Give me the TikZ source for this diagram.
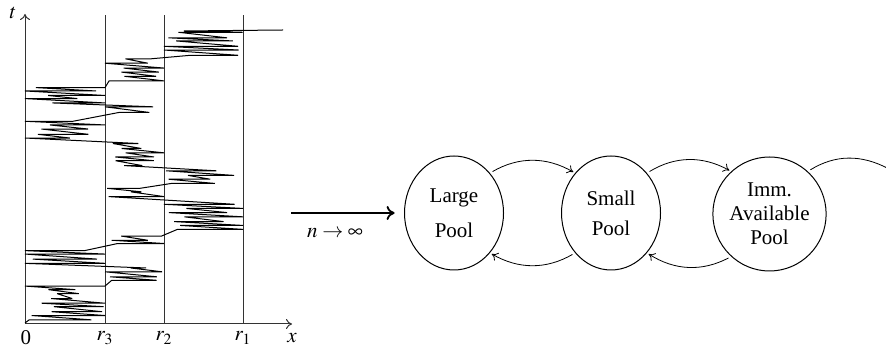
\documentclass[tikz,border=0pt]{standalone}
\usepackage{mathptmx}
\usepackage{fontspec}
\setmainfont{Liberation Serif}
\usetikzlibrary{shapes.geometric,arrows.meta}
\begin{document}
\begin{tikzpicture}[x=0.5pt,y=0.5pt,
  pool/.style={draw,ellipse,line width=0.5pt,minimum width=49.5pt,minimum height=57pt,inner sep=0pt,align=center,font=\fontsize{10.5}{12}\selectfont},
  flow/.style={-{To[length=3pt,width=4.5pt]},line width=0.4pt,shorten <=1.5pt,shorten >=1pt},
  wall/.style={line width=0.5pt,black!80},
  traj/.style={line width=0.5pt,line join=bevel},
  lab/.style={font=\fontsize{10.5}{12}\selectfont,inner sep=0pt}]
\useasboundingbox (0,0) rectangle (886,347);
\pgfmathsetseed{31}
% axes
\coordinate (O) at (25,23);
\coordinate (T) at (25,333);
\coordinate (X) at (292,23);
\draw[wall,-{To[length=3pt,width=5pt]}] (O) -- (T);
\draw[wall,-{To[length=3pt,width=5pt]}] (O) -- (X);
\node[lab] (tl) at (13,334) {$t$};
\node[lab] (xl) at (292,9) {$x$};
\node[lab] (zl) at (26,9) {0};
% walls
\coordinate (w3b) at (105,23); \coordinate (w3t) at (105,332);
\coordinate (w2b) at (164,23); \coordinate (w2t) at (164,332);
\coordinate (w1b) at (243,23); \coordinate (w1t) at (243,332);
\draw[wall] (w3b) -- (w3t);
\draw[wall] (w2b) -- (w2t);
\draw[wall] (w1b) -- (w1t);
\node[lab] (r3) at (105,9) {$r_3$};
\node[lab] (r2) at (164,9) {$r_2$};
\node[lab] (r1) at (243,9) {$r_1$};
% trajectory: horizontal runs joined by shallow slanted returns
\draw[traj] (25,24)
  \foreach \i [evaluate=\i as \yy using {22+\i*4.3+1.5*rnd}] in {1,...,9}{ -- ({25+80*max(0,0.6*rnd-0.15)},{\yy}) -- ({105-80*max(0,0.6*rnd-0.15)},{\yy}) }
  \foreach \i [evaluate=\i as \yy using {61+\i*4.4+1.5*rnd}] in {1,...,4}{ -- ({105+59*max(0,0.6*rnd-0.15)},{\yy}) -- ({164-59*max(0,0.6*rnd-0.15)},{\yy}) }
  \foreach \i [evaluate=\i as \yy using {79+\i*4.2+1.5*rnd}] in {1,...,4}{ -- ({25+80*max(0,0.6*rnd-0.15)},{\yy}) -- ({105-80*max(0,0.6*rnd-0.15)},{\yy}) }
  \foreach \i [evaluate=\i as \yy using {98+\i*4.3+1.5*rnd}] in {1,...,3}{ -- ({105+59*max(0,0.6*rnd-0.15)},{\yy}) -- ({164-59*max(0,0.6*rnd-0.15)},{\yy}) }
  \foreach \i [evaluate=\i as \yy using {112+\i*4.3+1.5*rnd}] in {1,...,7}{ -- ({164+79*max(0,0.6*rnd-0.15)},{\yy}) -- ({243-79*max(0,0.6*rnd-0.15)},{\yy}) }
  \foreach \i [evaluate=\i as \yy using {145+\i*4.4+1.5*rnd}] in {1,...,3}{ -- ({105+59*max(0,0.6*rnd-0.15)},{\yy}) -- ({164-59*max(0,0.6*rnd-0.15)},{\yy}) }
  \foreach \i [evaluate=\i as \yy using {159+\i*4.2+1.5*rnd}] in {1,...,4}{ -- ({164+79*max(0,0.6*rnd-0.15)},{\yy}) -- ({243-79*max(0,0.6*rnd-0.15)},{\yy}) }
  \foreach \i [evaluate=\i as \yy using {176+\i*4.4+1.5*rnd}] in {1,...,6}{ -- ({105+59*max(0,0.6*rnd-0.15)},{\yy}) -- ({164-59*max(0,0.6*rnd-0.15)},{\yy}) }
  \foreach \i [evaluate=\i as \yy using {203+\i*4.5+1.5*rnd}] in {1,...,5}{ -- ({25+80*max(0,0.6*rnd-0.15)},{\yy}) -- ({105-80*max(0,0.6*rnd-0.15)},{\yy}) }
  \foreach \i [evaluate=\i as \yy using {230+\i*4.4+1.5*rnd}] in {1,...,2}{ -- ({105+59*max(0,0.6*rnd-0.15)},{\yy}) -- ({164-59*max(0,0.6*rnd-0.15)},{\yy}) }
  \foreach \i [evaluate=\i as \yy using {239+\i*4+1.5*rnd}] in {1,...,5}{ -- ({25+80*max(0,0.6*rnd-0.15)},{\yy}) -- ({105-80*max(0,0.6*rnd-0.15)},{\yy}) }
  \foreach \i [evaluate=\i as \yy using {261+\i*4.4+1.5*rnd}] in {1,...,6}{ -- ({105+59*max(0,0.6*rnd-0.15)},{\yy}) -- ({164-59*max(0,0.6*rnd-0.15)},{\yy}) }
  \foreach \i [evaluate=\i as \yy using {287+\i*4.4+1.5*rnd}] in {1,...,6}{ -- ({164+79*max(0,0.6*rnd-0.15)},{\yy}) -- ({243-79*max(0,0.6*rnd-0.15)},{\yy}) }
  -- (184,316) -- (283,317);
% pools
\node[pool] (L) at (454,134) {Large\\[5.5pt]Pool};
\node[pool] (S) at (611,134) {Small\\[3pt]Pool};
\node[pool] (I) at (769.5,133) {Imm.\\Available\\Pool};
\coordinate (A) at (291,134);
\draw[line width=0.9pt,-{To[length=4pt,width=7pt]},shorten >=4.7pt] (A) -- (L.west);
\node[lab] (nl) at (335,114) {$n\to\infty$};
% flows
\draw[flow] (L.48) to[bend left=30] (S.132);
\draw[flow] (S.228) to[bend left=30] (L.312);
\draw[flow] (S.48) to[bend left=30] (I.132);
\draw[flow] (I.228) to[bend left=30] (S.312);
\coordinate (E) at (889,178);
\draw[line width=0.4pt,shorten <=1.5pt] (I.48) to[bend left=30] (E);
\end{tikzpicture}
\end{document}
